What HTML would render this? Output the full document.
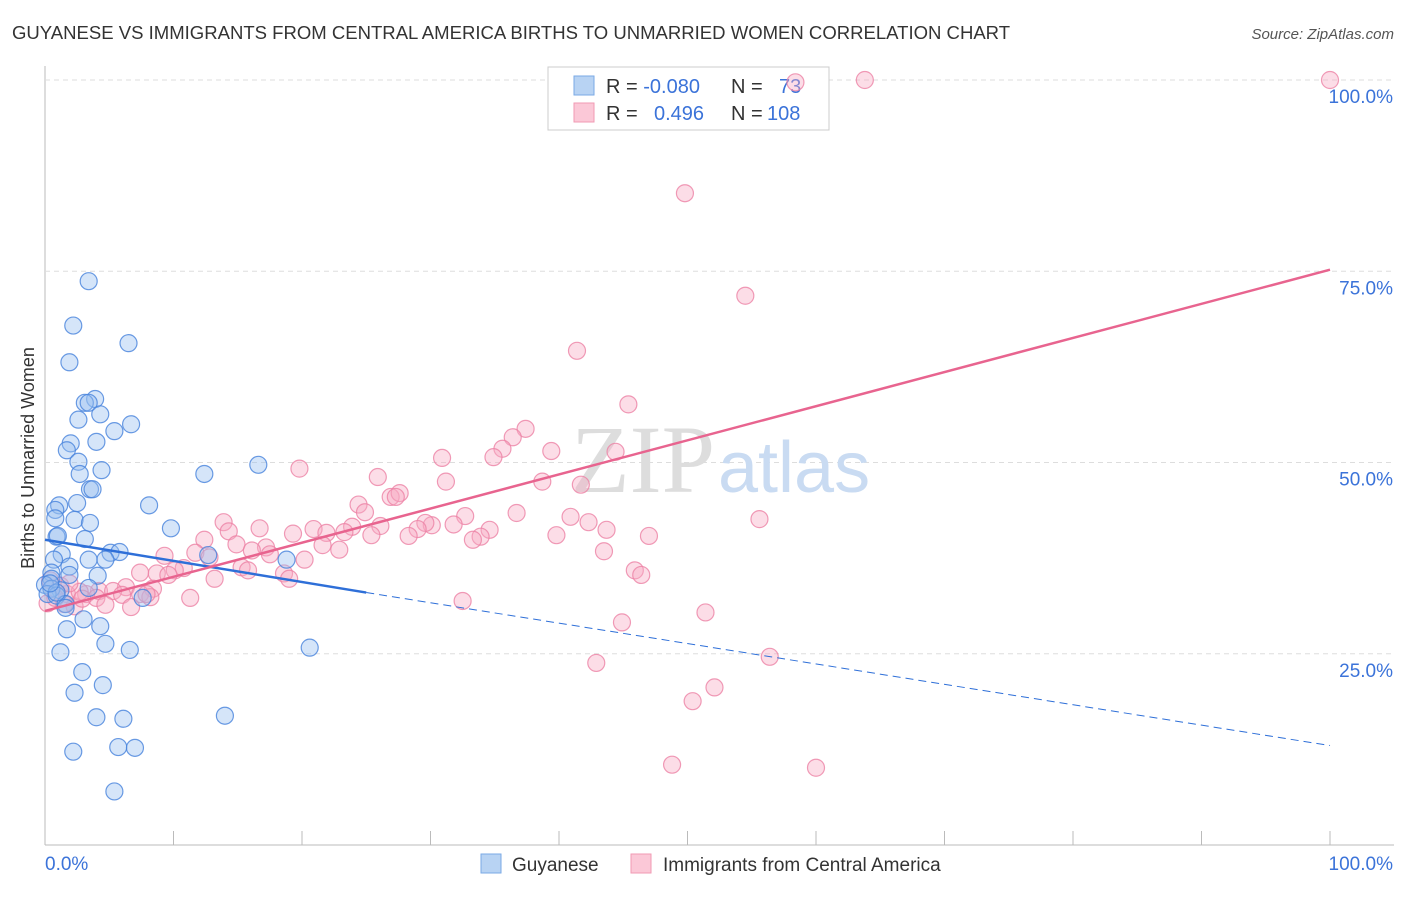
<!DOCTYPE html>
<html><head><meta charset="utf-8"><style>
body{margin:0;background:#fff;font-family:"Liberation Sans",sans-serif;}
</style></head><body>
<svg id="c" width="1406" height="892" xmlns="http://www.w3.org/2000/svg">
<text x="12" y="39" font-size="18.55" fill="#333">GUYANESE VS IMMIGRANTS FROM CENTRAL AMERICA BIRTHS TO UNMARRIED WOMEN CORRELATION CHART</text>
<text x="1394" y="39" font-size="15" fill="#555" font-style="italic" text-anchor="end">Source: ZipAtlas.com</text>
<text x="0" y="0" transform="translate(34,458) rotate(-90)" font-size="18" fill="#333" text-anchor="middle">Births to Unmarried Women</text>
<g id="grid"></g>
<text x="715" y="492" font-size="96" fill="#ddd" font-family="Liberation Serif,serif" text-anchor="end">ZIP</text>
<text x="718" y="492" font-size="72" fill="#c9dbf2">atlas</text>
<g>
<rect x="548" y="67" width="281" height="63" fill="#fff" stroke="#ccc"/>
<rect x="574" y="76" width="20" height="19" fill="#b8d3f3" stroke="#7aaae6"/>
<rect x="574" y="103" width="20" height="19" fill="#fbc8d7" stroke="#f09ab3"/>
<text x="606" y="93" font-size="20" fill="#333">R = <tspan fill="#3b73d9">-0.080</tspan><tspan x="731">N = </tspan><tspan x="779" fill="#3b73d9">73</tspan></text>
<text x="606" y="120" font-size="20" fill="#333">R = <tspan x="654" fill="#3b73d9">0.496</tspan><tspan x="731">N = </tspan><tspan x="767" fill="#3b73d9">108</tspan></text>
</g>
<g id="pts"></g>
<g id="lines"></g>
<g>
<rect x="481" y="854" width="20" height="19" fill="#b8d3f3" stroke="#7aaae6"/>
<text x="512" y="871" font-size="19" fill="#333">Guyanese</text>
<rect x="631" y="854" width="20" height="19" fill="#fbc8d7" stroke="#f09ab3"/>
<text x="663" y="871" font-size="19" fill="#333">Immigrants from Central America</text>
</g>
</svg>
<script>
const xTicks=[0,10,20,30,40,50,60,70,80,90,100];
const yTicks=[25,50,75,100];
const blueX=[3.4,2.2,6.5,1.9,3.9,3.1,3.4,4.3,2.6,6.7,5.4,2.0,4.0,1.7,2.6,4.4,2.7,3.5,3.7,12.4,16.6,1.1,0.8,2.5,8.1,0.8,2.3,3.5,9.8,0.9,1.0,3.1,12.7,1.3,5.1,5.8,0.7,3.4,4.7,1.9,4.1,0.5,0.5,1.9,18.8,0.0,1.2,3.4,7.6,0.5,0.2,0.9,1.6,1.6,3.0,1.7,4.3,4.7,6.6,1.2,20.6,2.9,2.3,4.5,4.0,6.1,2.2,5.7,7.0,5.4,14.0,0.9,0.4];
const blueY=[73.7,67.9,65.6,63.1,58.3,57.8,57.8,56.3,55.6,55.0,54.1,52.5,52.7,51.6,50.1,49.0,48.5,46.5,46.5,48.5,49.7,44.4,43.8,44.7,44.4,42.7,42.5,42.1,41.4,40.3,40.4,40.0,37.9,38.0,38.2,38.3,37.3,37.3,37.3,36.4,35.2,35.6,34.8,35.3,37.3,34.0,33.3,33.6,32.3,33.5,32.8,32.6,31.5,31.0,29.5,28.2,28.6,26.3,25.5,25.2,25.8,22.6,19.9,20.9,16.7,16.5,12.2,12.8,12.7,7.0,16.9,33.0,34.2];
const pinkX=[100,63.8,58.4,49.8,54.5,41.4,45.4,37.4,36.4,35.6,34.9,39.4,44.4,30.9,19.8,31.2,25.9,38.7,41.7,24.4,24.9,26.9,27.6,27.3,36.7,32.7,40.9,42.3,55.6,30.1,29.6,31.8,26.1,20.9,23.9,13.9,29.0,34.6,33.9,43.7,21.9,23.3,25.4,47.0,14.3,16.7,19.3,39.8,28.3,12.4,14.9,33.3,17.2,21.6,22.9,16.1,11.7,17.5,43.5,9.3,12.8,20.2,10.8,10.1,7.4,15.3,15.8,8.7,9.6,45.9,46.4,13.2,18.6,19.0,6.3,8.4,4.2,5.3,7.4,11.3,1.7,3.2,4.0,6.0,6.7,4.7,2.3,1.5,8.2,32.5,7.9,2.7,1.2,0.4,51.4,44.9,42.9,56.4,52.1,50.4,48.8,60.0,0.2,0.8,1.9,2.9];
const pinkY=[100,100,99.7,85.2,71.8,64.6,57.6,54.4,53.3,51.8,50.7,51.5,51.4,50.6,49.2,47.5,48.1,47.5,47.1,44.5,43.5,45.5,46.0,45.5,43.4,43.0,42.9,42.2,42.6,41.8,42.1,41.9,41.7,41.3,41.6,42.2,41.3,41.2,40.3,41.2,40.8,40.9,40.5,40.4,41.0,41.4,40.7,40.5,40.4,39.9,39.3,39.9,38.9,39.2,38.6,38.5,38.2,38.0,38.4,37.8,37.6,37.3,36.2,35.9,35.6,36.3,35.9,35.5,35.3,35.9,35.3,34.8,35.5,34.8,33.7,33.5,33.2,33.2,32.8,32.3,32.8,32.8,32.3,32.7,31.1,31.4,31.2,31.5,32.4,31.9,32.8,33.1,33.9,34.6,30.4,29.1,23.8,24.6,20.6,18.8,10.5,10.1,31.6,32.3,34.2,32.2];
const blueLine=[0,39.9,25,33.0,100,13.0];
const pinkLine=[0,30.6,100,75.2];
const NS="http://www.w3.org/2000/svg";
const X0=45,X1=1330,Y0=845,Y1=80;
const sx=v=>X0+(X1-X0)*v/100, sy=v=>Y0-(Y0-Y1)*v/100;
function mk(t,a,p){const e=document.createElementNS(NS,t);for(const k in a)e.setAttribute(k,a[k]);p.appendChild(e);return e;}
const g=document.getElementById('grid');
mk('line',{x1:X0,y1:66,x2:X0,y2:Y0,stroke:'#bbb'},g);
mk('line',{x1:X0,y1:Y0,x2:1394,y2:Y0,stroke:'#bbb'},g);
xTicks.forEach((t,i)=>{const l=mk('line',{x1:sx(t),y1:Y0,x2:sx(t),y2:Y0-14,stroke:'#bbb'},g);

});
yTicks.forEach(t=>{const l=mk('line',{x1:X0,y1:sy(t),x2:1394,y2:sy(t),stroke:'#ddd','stroke-dasharray':'5,4'},g);


const tx=mk('text',{x:1393,y:sy(t)+23,'font-size':19,fill:'#3b73d9','text-anchor':'end'},g);tx.textContent=t.toFixed(1)+'%';

});
const xl=mk('text',{x:45,y:870,'font-size':19,fill:'#3b73d9'},g);xl.textContent='0.0%';


const xr=mk('text',{x:1393,y:870,'font-size':19,fill:'#3b73d9','text-anchor':'end'},g);xr.textContent='100.0%';


const P=document.getElementById('pts');
pinkX.forEach((x,i)=>{const c=mk('circle',{cx:sx(x),cy:sy(pinkY[i]),r:8.5,fill:'rgba(248,170,195,0.4)',stroke:'rgba(236,130,165,0.8)','stroke-width':1.2},P);

});
blueX.forEach((x,i)=>{const c=mk('circle',{cx:sx(x),cy:sy(blueY[i]),r:8.5,fill:'rgba(150,190,240,0.4)',stroke:'rgba(70,130,220,0.8)','stroke-width':1.2},P);

});
const L=document.getElementById('lines');
let e=mk('line',{x1:sx(blueLine[0]),y1:sy(blueLine[1]),x2:sx(blueLine[2]),y2:sy(blueLine[3]),stroke:'#2e6fd8','stroke-width':2.5},L);


e=mk('line',{x1:sx(blueLine[2]),y1:sy(blueLine[3]),x2:sx(blueLine[4]),y2:sy(blueLine[5]),stroke:'#2e6fd8','stroke-width':1,'stroke-dasharray':'8,5'},L);


e=mk('line',{x1:sx(pinkLine[0]),y1:sy(pinkLine[1]),x2:sx(pinkLine[2]),y2:sy(pinkLine[3]),stroke:'#e8648f','stroke-width':2.5},L);


</script>
</body></html>
